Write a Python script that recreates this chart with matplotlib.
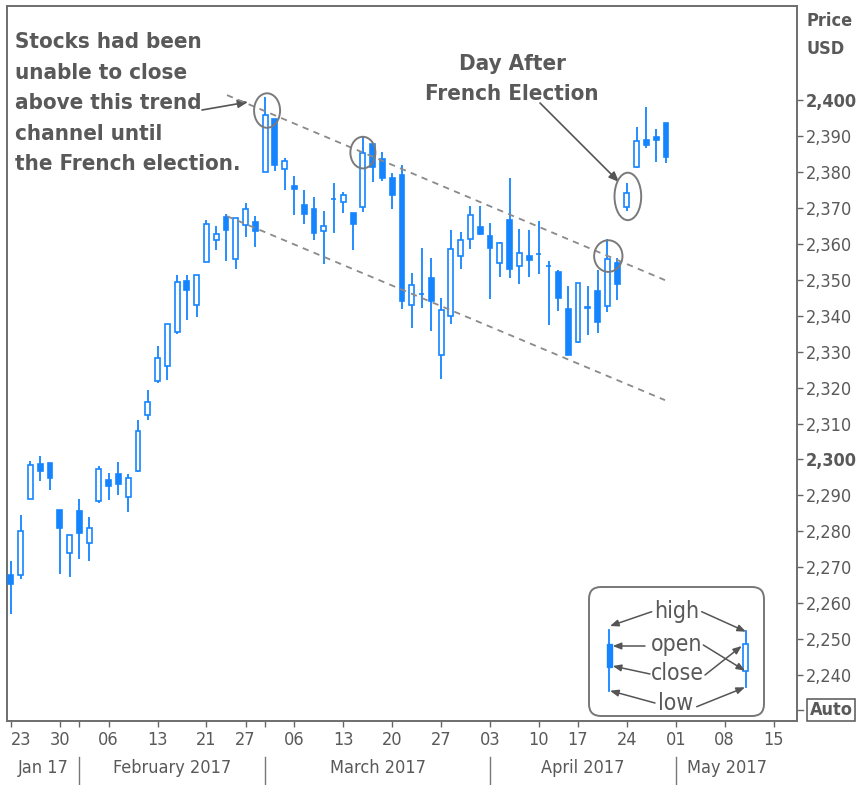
import numpy as np
import pandas as pd
import matplotlib
matplotlib.use('Agg')
import matplotlib.pyplot as plt
from matplotlib import font_manager as fm
from matplotlib.patches import Ellipse, FancyBboxPatch

# daily candles, 23 Jan - 28 Apr 2017
opens = [2267.8, 2267.9, 2288.9, 2298.6, 2299.0, 2286.0, 2274.0, 2285.6, 2276.7, 2288.5,
         2294.3, 2295.9, 2289.6, 2296.7, 2312.3, 2321.7, 2326.1, 2335.6, 2349.6, 2343.0,
         2354.9, 2361.1, 2367.5, 2355.7, 2365.2, 2366.1, 2380.1, 2394.8, 2380.9, 2376.0,
         2370.7, 2369.8, 2363.5, 2372.5, 2371.6, 2368.6, 2370.3, 2387.7, 2383.7, 2378.2,
         2379.3, 2343.0, 2346.0, 2350.4, 2329.1, 2339.8, 2356.5, 2361.3, 2364.8, 2362.3,
         2354.8, 2366.6, 2353.8, 2356.6, 2357.2, 2353.9, 2352.2, 2342.0, 2332.6, 2342.5,
         2346.8, 2342.7, 2354.7, 2370.3, 2381.5, 2389.0, 2389.7, 2393.7]
highs = [2271.8, 2284.6, 2299.6, 2301.0, 2299.0, 2286.0, 2279.1, 2289.1, 2284.0, 2298.3,
         2296.2, 2299.4, 2295.9, 2311.1, 2319.2, 2331.6, 2337.6, 2351.3, 2351.3, 2351.2,
         2366.7, 2365.1, 2368.3, 2367.3, 2371.5, 2367.8, 2401.0, 2394.8, 2383.9, 2378.8,
         2375.1, 2373.1, 2369.1, 2376.9, 2374.4, 2368.6, 2390.0, 2388.1, 2385.7, 2379.6,
         2381.9, 2351.8, 2358.9, 2356.2, 2344.9, 2363.8, 2363.4, 2370.4, 2370.4, 2365.9,
         2360.5, 2378.4, 2364.2, 2363.8, 2366.4, 2355.2, 2352.7, 2348.3, 2349.1, 2348.4,
         2352.6, 2361.4, 2356.2, 2377.0, 2392.5, 2398.2, 2392.1, 2393.7]
lows = [2257.0, 2266.7, 2288.9, 2294.1, 2291.6, 2268.0, 2267.2, 2272.4, 2271.7, 2287.9,
        2288.6, 2290.2, 2285.4, 2296.6, 2311.1, 2321.4, 2322.2, 2334.8, 2338.9, 2339.6,
        2354.9, 2358.3, 2355.1, 2352.9, 2361.9, 2359.0, 2380.1, 2380.2, 2375.1, 2368.0,
        2365.5, 2361.0, 2354.5, 2363.0, 2368.5, 2358.2, 2368.9, 2377.2, 2377.6, 2369.7,
        2341.9, 2336.5, 2342.1, 2335.7, 2322.3, 2337.6, 2352.9, 2358.6, 2362.6, 2344.7,
        2350.7, 2350.5, 2348.9, 2350.7, 2351.5, 2337.3, 2341.2, 2329.0, 2332.5, 2334.5,
        2335.1, 2340.9, 2344.5, 2369.2, 2381.2, 2386.8, 2382.7, 2382.4]
closes = [2265.2, 2280.1, 2298.4, 2296.7, 2294.7, 2280.9, 2278.9, 2279.6, 2280.9, 2297.4,
          2292.6, 2293.1, 2294.7, 2307.9, 2316.1, 2328.3, 2337.6, 2349.3, 2347.2, 2351.2,
          2365.4, 2362.8, 2363.8, 2367.3, 2369.8, 2363.6, 2396.0, 2381.9, 2383.1, 2375.3,
          2368.4, 2363.0, 2364.9, 2372.6, 2373.5, 2365.5, 2385.3, 2381.4, 2378.3, 2373.5,
          2344.0, 2348.5, 2346.0, 2344.0, 2341.6, 2358.6, 2361.1, 2368.1, 2362.7, 2358.8,
          2360.2, 2353.0, 2357.5, 2355.5, 2357.2, 2353.8, 2344.9, 2329.0, 2349.0, 2342.2,
          2338.2, 2355.8, 2348.7, 2374.2, 2388.6, 2387.5, 2388.8, 2384.2]

holidays = ['2017-02-20', '2017-04-14']
price_ticks = list(range(2240, 2401, 10))
bold_ticks = [2300, 2400]

# trend channel anchors (trading-day index, price)
channel_x = [22.1, 66.9]
upper_channel = [2401.4, 2349.9]
lower_channel = [2367.7, 2316.5]

# highlighted candles: centre index, centre price, width (days), height (points)
rings = [(26.2, 2397.1, 2.66, 9.6),
         (36.0, 2385.4, 2.56, 8.8),
         (61.1, 2356.6, 2.9, 8.8),
         (63.1, 2373.2, 2.73, 13.2)]

W, H = 863, 785
BLUE = '#1485ff'
TXT = '#595959'

# condensed face looks closest to the original Tahoma-like text
names = [(f.name, f.stretch) for f in fm.fontManager.ttflist]
if any(n == 'DejaVu Sans' and 'condensed' in str(s) for n, s in names):
    plt.rcParams['font.family'] = 'DejaVu Sans'
    plt.rcParams['font.stretch'] = 'condensed'
    SCALE = 1.0
elif any(n == 'Liberation Sans Narrow' for n, s in names):
    plt.rcParams['font.family'] = 'Liberation Sans Narrow'
    SCALE = 1.05
else:
    plt.rcParams['font.family'] = 'DejaVu Sans'
    SCALE = 0.9


def P(x, y):
    return (x / W, 1 - y / H)


days = pd.bdate_range('2017-01-23', '2017-05-15')
days = days[~days.isin(pd.to_datetime(holidays))]
n = len(closes)
x = np.arange(n)
o = np.array(opens)
c = np.array(closes)

fig = plt.figure(figsize=(W / 100, H / 100), dpi=100)
ax = fig.add_axes([7 / W, 1 - 721 / H, 790 / W, 715 / H])
ax.set_xlim(-0.4, 80.4)
ax.set_ylim(2227.2, 2426.2)

# candles
ax.vlines(x, lows, highs, color=BLUE, lw=1.3, zorder=2)
up = c >= o
body_lo = np.minimum(o, c)
body_h = np.maximum(np.abs(c - o), 0.08)
ax.bar(x[up], body_h[up], bottom=body_lo[up], width=0.5, facecolor='white',
       edgecolor=BLUE, linewidth=1.2, zorder=3)
ax.bar(x[~up], body_h[~up], bottom=body_lo[~up], width=0.5, facecolor=BLUE,
       edgecolor=BLUE, linewidth=1.2, zorder=3)

# trend channel
for ys in (upper_channel, lower_channel):
    ax.plot(channel_x, ys, color='#8a8a8a', lw=1.3, ls=(0, (3.5, 3)), zorder=4)

for cx, cy, rw, rh in rings:
    ax.add_patch(Ellipse((cx, cy), rw, rh, fill=False, ec='#7a7a7a', lw=1.4, zorder=5))

# frame
for s in ax.spines.values():
    s.set_color('#6e6e6e')
    s.set_linewidth(1.4)

# price axis on the right
ax.yaxis.tick_right()
ax.set_yticks(price_ticks)
ax.set_yticklabels([f'{v:,}' for v in price_ticks])
for lab, v in zip(ax.get_yticklabels(), price_ticks):
    if v in bold_ticks:
        lab.set_fontweight('bold')
ax.tick_params(axis='y', right=True, left=False, length=4.5, width=1, color='#666',
               labelsize=13 * SCALE, labelcolor=TXT, pad=2)

# date axis
week_starts = [i for i in range(len(days)) if i == 0 or days[i].week != days[i - 1].week]
month_starts = [i for i in range(1, len(days)) if days[i].month != days[i - 1].month]
tick_pos = sorted(set(week_starts) | set(month_starts))
tick_lab = [days[i].strftime('%d') if i in week_starts else '' for i in tick_pos]
ax.set_xticks(tick_pos)
ax.set_xticklabels(tick_lab)
ax.tick_params(axis='x', length=4.3, width=1, color='#666', labelsize=13 * SCALE,
               labelcolor=TXT, pad=3)
ax.get_xticklabels()[0].set_horizontalalignment('left')

tr = ax.get_xaxis_transform()
for m in month_starts:
    ax.plot([m, m], [-0.05, -0.095], transform=tr, color='#777', lw=1, clip_on=False)
bounds = [-0.4] + month_starts + [tick_pos[-1] + 0.5]
month_names = ['Jan 17'] + [days[m].strftime('%B %Y') for m in month_starts]
for a, b, name in zip(bounds[:-1], bounds[1:], month_names):
    ax.text((a + b) / 2, -0.0657, name, transform=tr, ha='center', va='center',
            fontsize=13 * SCALE, color=TXT)

# axis captions
fig.text(*P(806, 21), 'Price', ha='left', va='center', fontsize=13 * SCALE,
         fontweight='bold', color=TXT)
fig.text(*P(806, 49), 'USD', ha='left', va='center', fontsize=13 * SCALE,
         fontweight='bold', color=TXT)
fig.text(*P(831, 710), 'Auto', ha='center', va='center', fontsize=13 * SCALE,
         fontweight='bold', color=TXT,
         bbox=dict(boxstyle='square,pad=0.12', fc='white', ec='#555', lw=1.1))
ax.plot([1, 1 + 6 / 790], [11 / 715] * 2, transform=ax.transAxes, color='#666',
        lw=1, clip_on=False)

# annotations
note = ['Stocks had been', 'unable to close', 'above this trend', 'channel until',
        'the French election.']
for i, line in enumerate(note):
    fig.text(*P(15, 48.3 + i * 30.4), line, ha='left', va='baseline',
             fontsize=16 * SCALE, fontweight='bold', color=TXT)
fig.text(*P(512, 70), 'Day After', ha='center', va='baseline', fontsize=16 * SCALE,
         fontweight='bold', color=TXT)
fig.text(*P(512, 100), 'French Election', ha='center', va='baseline',
         fontsize=16 * SCALE, fontweight='bold', color=TXT)

arrow = dict(arrowstyle='-|>,head_length=0.6,head_width=0.25', color='#555', lw=1.2,
             shrinkA=0, shrinkB=0)
ax.annotate('', xy=P(248, 102), xytext=P(202, 110), xycoords='figure fraction',
            textcoords='figure fraction', arrowprops=arrow)
ax.annotate('', xy=P(619, 182), xytext=P(540, 103), xycoords='figure fraction',
            textcoords='figure fraction', arrowprops=arrow)

# candle key box
lax = fig.add_axes([588 / W, 1 - 717 / H, 177 / W, 131 / H])
lax.set_xlim(0, 177)
lax.set_ylim(131, 0)
lax.axis('off')
lax.add_patch(FancyBboxPatch((1, 1), 175, 129, boxstyle='round,pad=0,rounding_size=12',
                             fc='white', ec='#777', lw=1.4, clip_on=False))
lax.plot([21.3, 21.3], [44, 104.7], color=BLUE, lw=1.3)
lax.add_patch(plt.Rectangle((18.8, 58), 5, 22.7, fc=BLUE, ec=BLUE, lw=1))
lax.plot([157.7, 157.7], [45, 101.3], color=BLUE, lw=1.3)
lax.add_patch(plt.Rectangle((155.2, 58), 5, 26.7, fc='white', ec=BLUE, lw=1.2, zorder=3))
for label, tx, ty in [('high', 88.7, 25.7), ('open', 88.7, 59), ('close', 89.3, 87.3),
                      ('low', 88, 117.3)]:
    lax.text(tx, ty, label, ha='center', va='center', fontsize=16.5 * SCALE, color=TXT)
key_arrows = [((63.7, 25.7), (22, 40)), ((113.7, 25.7), (158, 45.7)),
              ((57, 60), (24.7, 60)), ((115.3, 59), (157, 84.7)),
              ((62, 88), (24.7, 80)), ((117, 89), (153.7, 60)),
              ((67, 117), (22, 104.7)), ((108.7, 120.7), (157, 101.3))]
small = dict(arrowstyle='-|>,head_length=0.5,head_width=0.2', color='#555', lw=1.1,
             shrinkA=0, shrinkB=0)
for tail, head in key_arrows:
    lax.annotate('', xy=head, xytext=tail, arrowprops=small)

fig.savefig('out.png', dpi=100, facecolor='white')
